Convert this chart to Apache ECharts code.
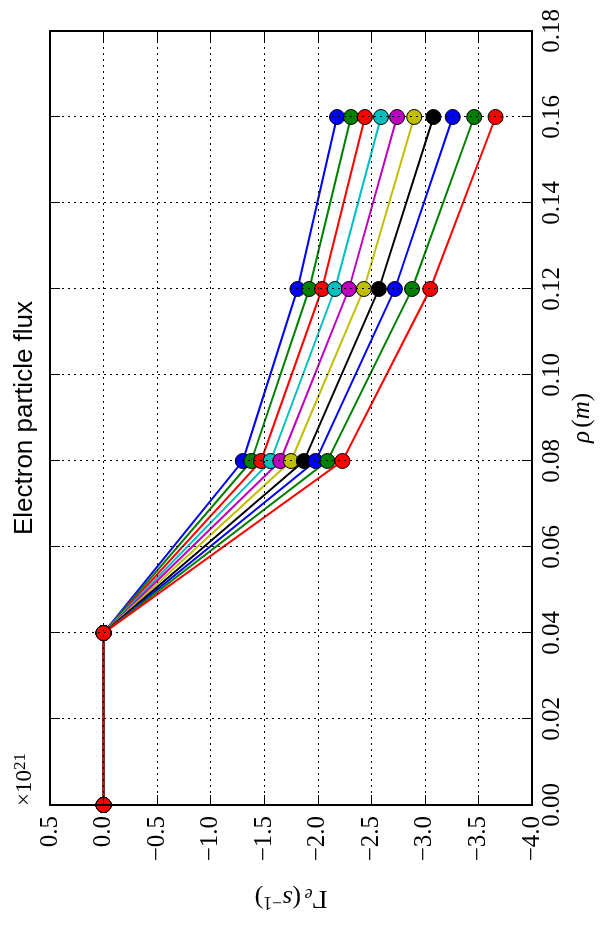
<!DOCTYPE html>
<html>
<head>
<meta charset="utf-8">
<script src="https://cdn.jsdelivr.net/npm/echarts@6/dist/echarts.min.js"></script>
<style>
html,body{margin:0;padding:0;background:#fff;width:600px;height:927px;overflow:hidden;}
#chart{position:absolute;left:0;top:0;width:927px;height:600px;transform-origin:0 0;transform:translate(0,927px) rotate(-90deg);}
</style>
</head>
<body>
<div id="chart"></div>
<script>
// radial positions rho (m)
const rho = [0.00, 0.04, 0.08, 0.12, 0.16];
// electron particle flux (x 1e21 s^-1), one array per curve
const s1  = [0, 0, -1.30, -1.81, -2.18];
const s2  = [0, 0, -1.38, -1.92, -2.31];
const s3  = [0, 0, -1.47, -2.04, -2.44];
const s4  = [0, 0, -1.56, -2.16, -2.59];
const s5  = [0, 0, -1.65, -2.29, -2.74];
const s6  = [0, 0, -1.75, -2.43, -2.90];
const s7  = [0, 0, -1.87, -2.57, -3.08];
const s8  = [0, 0, -1.98, -2.72, -3.26];
const s9  = [0, 0, -2.09, -2.88, -3.46];
const s10 = [0, 0, -2.23, -3.05, -3.66];
const seriesValues = [s1, s2, s3, s4, s5, s6, s7, s8, s9, s10];
const colors = ['#0000ff','#008000','#ff0000','#00bfbf','#bf00bf','#bfbf00','#000000','#0000ff','#008000','#ff0000'];
const rhoTicks = {min: 0, max: 0.18, interval: 0.02};
const fluxTicks = {min: -4.0, max: 0.5, interval: 0.5};
const titleText = 'Electron particle flux';

const serif = '"Liberation Serif", "DejaVu Serif", serif';
const chart = echarts.init(document.getElementById('chart'), null, {renderer: 'canvas'});
const fmtFlux = v => v.toFixed(1).replace('-', '\u2212');
const fmtRho = v => v.toFixed(2);
const tickStyle = {show: true, inside: true, length: 10, lineStyle: {color: '#000', width: 1}};
const gridLine = {show: true, lineStyle: {color: '#000', width: 1, type: [2, 4]}};

const series = seriesValues.map((vals, i) => ({
  type: 'line',
  xAxisIndex: 0, yAxisIndex: 0,
  data: rho.map((r, j) => [r, vals[j]]),
  symbol: 'circle', symbolSize: 15,
  itemStyle: {color: colors[i], borderColor: '#000', borderWidth: 1},
  lineStyle: {color: colors[i], width: 2},
  emphasis: {disabled: true},
  clip: true
}));

chart.setOption({
  animation: false,
  grid: {left: 122, right: 31, top: 50, bottom: 68, containLabel: false},
  graphic: [
    {type: 'text', x: 509, y: 25, style: {text: titleText, textAlign: 'center', textVerticalAlign: 'middle', font: '26px "Liberation Sans", Arial, sans-serif', fill: '#000'}},
    {type: 'text', x: 121, y: 24, style: {
      text: '{a|\u00d710}{b|21}', textAlign: 'left', textVerticalAlign: 'middle',
      rich: {a: {fontFamily: serif, fontSize: 23, verticalAlign: 'bottom', lineHeight: 24, fill: '#000'},
             b: {fontFamily: serif, fontSize: 17, verticalAlign: 'top', lineHeight: 17, fill: '#000'}}
    }}
  ],
  xAxis: [
    {type: 'value', position: 'bottom', z: 5, min: rhoTicks.min, max: rhoTicks.max, interval: rhoTicks.interval,
     axisLine: {show: true, onZero: false, lineStyle: {color: '#000', width: 2}},
     axisTick: tickStyle,
     axisLabel: {show: true, formatter: fmtRho, fontFamily: serif, fontSize: 25, color: '#000', margin: 8},
     splitLine: gridLine,
     name: '{i|\u03c1} {n|(}{i|m}{n|)}', nameLocation: 'middle', nameGap: 38,
     nameTextStyle: {rich: {i: {fontFamily: serif, fontStyle: 'italic', fontSize: 25, color: '#000'},
                            n: {fontFamily: serif, fontSize: 25, color: '#000'}}}},
    {type: 'value', position: 'top', z: 5, min: rhoTicks.min, max: rhoTicks.max, interval: rhoTicks.interval,
     axisLine: {show: true, onZero: false, lineStyle: {color: '#000', width: 2}},
     axisTick: tickStyle, axisLabel: {show: false}, splitLine: {show: false}}
  ],
  yAxis: [
    {type: 'value', position: 'left', z: 5, min: fluxTicks.min, max: fluxTicks.max, interval: fluxTicks.interval,
     axisLine: {show: true, onZero: false, lineStyle: {color: '#000', width: 2}},
     axisTick: tickStyle,
     axisLabel: {show: true, formatter: fmtFlux, fontFamily: serif, fontSize: 25, color: '#000', margin: 11},
     splitLine: gridLine,
     name: '{g|\u0393}{sub|e} {n|(}{i|s}{sup|\u22121}{n|)}', nameLocation: 'middle', nameRotate: 90, nameGap: 80,
     nameTextStyle: {rich: {
       g: {fontFamily: serif, fontSize: 26, color: '#000', lineHeight: 26},
       n: {fontFamily: serif, fontSize: 26, color: '#000', lineHeight: 26},
       i: {fontFamily: serif, fontStyle: 'italic', fontSize: 26, color: '#000', lineHeight: 26},
       sub: {fontFamily: serif, fontStyle: 'italic', fontSize: 18, color: '#000', lineHeight: 18, verticalAlign: 'bottom'},
       sup: {fontFamily: serif, fontSize: 18, color: '#000', lineHeight: 18, verticalAlign: 'top'}
     }}},
    {type: 'value', position: 'right', z: 5, min: fluxTicks.min, max: fluxTicks.max, interval: fluxTicks.interval,
     axisLine: {show: true, onZero: false, lineStyle: {color: '#000', width: 2}},
     axisTick: tickStyle, axisLabel: {show: false}, splitLine: {show: false}}
  ],
  series: series
});
</script>
</body>
</html>
